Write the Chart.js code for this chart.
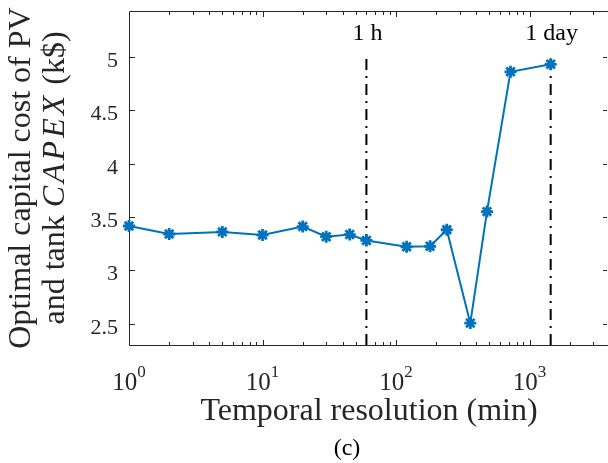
<!DOCTYPE html>
<html><head><meta charset="utf-8">
<script src="https://cdn.jsdelivr.net/npm/chart.js@4/dist/chart.umd.min.js"></script>
<style>html,body{margin:0;padding:0;background:#fff;overflow:hidden;}#c{display:block;}</style>
</head><body><canvas id="c" width="608" height="463" style="width:608px;height:463px"></canvas>
<script>
// ---- data ----
const resolutionMin = [1, 2, 5, 10, 20, 30, 45, 60, 120, 180, 240, 360, 480, 720, 1440];
const capexK = [3.415, 3.34, 3.36, 3.33, 3.41, 3.315, 3.335, 3.28, 3.22, 3.225, 3.38, 2.505, 3.55, 4.86, 4.93];
const markerLines = [60, 1440];
const markerLabels = ['1 h', '1 day'];
const markerTop = 5;
const yTicks = [2.5, 3, 3.5, 4, 4.5, 5];
const yTickLabels = ['2.5', '3', '3.5', '4', '4.5', '5'];
const xDecadeExponents = [0, 1, 2, 3];
const xMin = 1, xMax = 3870, yMin = 2.3, yMax = 5.43;
const xTitle = 'Temporal resolution (min)';
const yTitle1 = 'Optimal capital cost of PV';
const yTitle2 = [['and tank ', false], ['CAPEX', true], [' (k$)', false]];
const caption = '(c)';

// ---- styling ----
const AX = '#262626';
const BLUE = '#0072BD';
const SERIF = '"Liberation Serif","Times New Roman",serif';

const datasets = [{
  data: resolutionMin.map((v, i) => ({x: v, y: capexK[i]})),
  borderColor: BLUE, backgroundColor: BLUE, borderWidth: 2,
  pointStyle: 'star', pointRadius: 6, pointBorderWidth: 2.8,
  pointBorderColor: BLUE, pointBackgroundColor: BLUE, clip: false, tension: 0
}];
markerLines.forEach(v => datasets.push({
  data: [{x: v, y: yMin}, {x: v, y: markerTop}],
  borderColor: '#000', borderWidth: 2, borderDash: [11, 6, 2, 6],
  pointRadius: 0, clip: false
}));

const decor = {
  id: 'decor',
  beforeDatasetsDraw(chart) {
    const {ctx, chartArea: a, scales: {x, y}} = chart;
    ctx.save();
    ctx.strokeStyle = AX; ctx.lineWidth = 1;
    ctx.beginPath();
    ctx.moveTo(a.left + 0.5, a.top + 0.5); ctx.lineTo(a.right + 0.5, a.top + 0.5);
    ctx.lineTo(a.right + 0.5, a.bottom + 0.5); ctx.lineTo(a.left + 0.5, a.bottom + 0.5);
    ctx.closePath();
    for (let e = 0; e <= 3; e++) {
      for (let m = 1; m <= 9; m++) {
        const v = m * Math.pow(10, e);
        if (v > xMax) break;
        const px = Math.round(x.getPixelForValue(v)) + 0.5;
        const L = m === 1 ? 5 : 3;
        ctx.moveTo(px, a.bottom); ctx.lineTo(px, a.bottom - L);
        ctx.moveTo(px, a.top + 1); ctx.lineTo(px, a.top + 1 + L);
      }
    }
    yTicks.forEach(v => {
      const py = Math.round(y.getPixelForValue(v)) + 0.5;
      ctx.moveTo(a.left + 1, py); ctx.lineTo(a.left + 6, py);
      ctx.moveTo(a.right - 1, py); ctx.lineTo(a.right - 5, py);
    });
    ctx.stroke();
    ctx.restore();
  },
  afterDraw(chart) {
    const {ctx, chartArea: a, scales: {x, y}} = chart;
    ctx.save();
    ctx.fillStyle = AX;
    // y tick labels
    ctx.font = '22px ' + SERIF;
    ctx.textAlign = 'right'; ctx.textBaseline = 'alphabetic';
    yTicks.forEach((v, i) => {
      ctx.fillText(yTickLabels[i], a.left - 11, y.getPixelForValue(v) + 10);
    });
    // x tick labels 10^k
    xDecadeExponents.forEach(e => {
      const px = x.getPixelForValue(Math.pow(10, e));
      ctx.font = '25px ' + SERIF;
      const w1 = ctx.measureText('10').width;
      ctx.font = '17px ' + SERIF;
      const w2 = ctx.measureText(String(e)).width;
      const sx = px - (w1 + w2) / 2;
      ctx.textAlign = 'left'; ctx.textBaseline = 'alphabetic';
      ctx.font = '25px ' + SERIF;
      ctx.fillText('10', sx, 390);
      ctx.font = '17px ' + SERIF;
      ctx.fillText(String(e), sx + w1, 377);
    });
    // x title
    ctx.font = '32px ' + SERIF;
    ctx.textAlign = 'center'; ctx.textBaseline = 'middle';
    ctx.fillText(xTitle, 369, 412);
    // caption
    ctx.fillStyle = '#000';
    ctx.font = '24px ' + SERIF;
    ctx.fillText(caption, 347, 449);
    // marker labels
    ctx.font = '24px ' + SERIF;
    markerLines.forEach((v, i) => {
      ctx.fillText(markerLabels[i], x.getPixelForValue(v) + 1, 34);
    });
    // y title (rotated, two lines)
    ctx.fillStyle = AX;
    ctx.translate(0, 178);
    ctx.rotate(-Math.PI / 2);
    ctx.textBaseline = 'middle';
    ctx.font = '32px ' + SERIF;
    ctx.textAlign = 'center';
    ctx.fillText(yTitle1, 0, 22);
    const fontOf = it => (it ? 'italic ' : '') + '32px ' + SERIF;
    const spacing = it => (it ? '3px' : '0px');
    let total = 0;
    yTitle2.forEach(([t, it]) => { ctx.font = fontOf(it); ctx.letterSpacing = spacing(it); total += ctx.measureText(t).width; });
    let cx = -total / 2;
    ctx.textAlign = 'left';
    yTitle2.forEach(([t, it]) => { ctx.font = fontOf(it); ctx.letterSpacing = spacing(it); ctx.fillText(t, cx, 56); cx += ctx.measureText(t).width; });
    ctx.letterSpacing = '0px';
    ctx.restore();
  }
};

new Chart(document.getElementById('c'), {
  type: 'line',
  data: {datasets},
  options: {
    responsive: false, maintainAspectRatio: false, animation: false, devicePixelRatio: 1,
    layout: {autoPadding: false, padding: {top: 11, right: 0, bottom: 118, left: 129}},
    plugins: {legend: {display: false}, tooltip: {enabled: false}},
    scales: {
      x: {type: 'logarithmic', min: xMin, max: xMax, display: false},
      y: {type: 'linear', min: yMin, max: yMax, display: false}
    }
  },
  plugins: [decor]
});
</script>
</body></html>
